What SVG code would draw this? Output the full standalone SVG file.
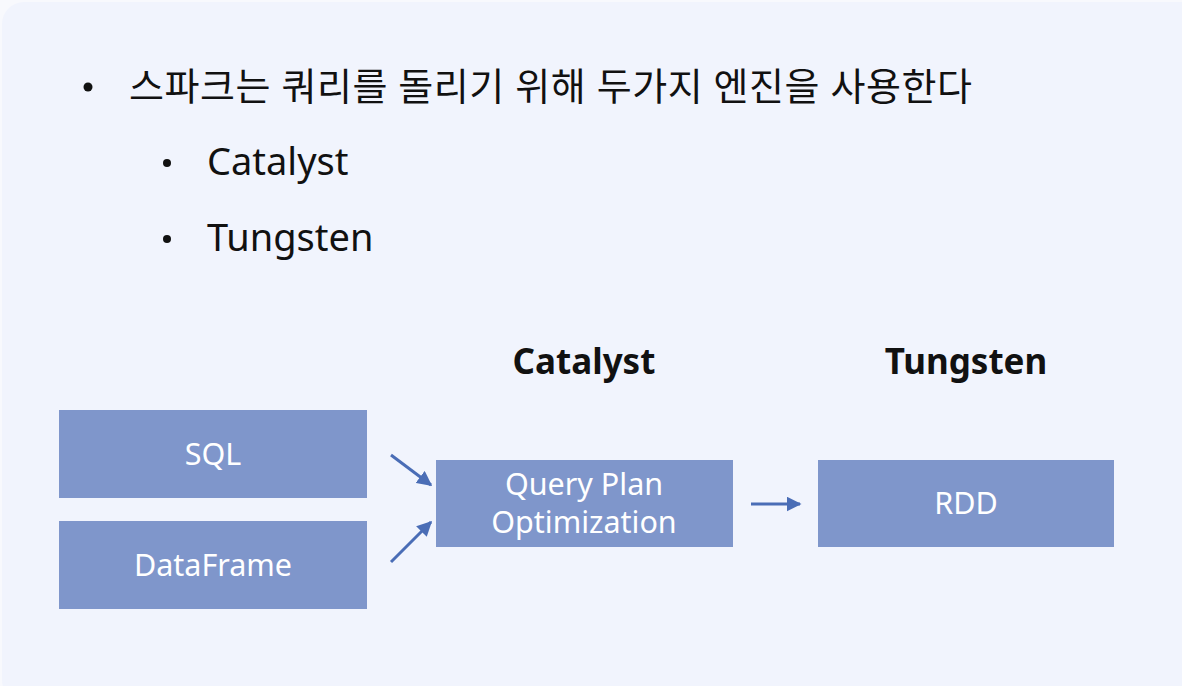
<svg xmlns="http://www.w3.org/2000/svg" width="1182" height="686" viewBox="0 0 1182 686">
<defs>
<style>
.t{font-family:"Noto Sans","Noto Sans CJK KR",sans-serif;fill:#111;}
.box{fill:#7F96CB;}
.bt{font-family:"Noto Sans","Open Sans",sans-serif;fill:#fff;font-size:30.5px;text-anchor:middle;}
.h{font-family:"Noto Sans","Open Sans",sans-serif;font-weight:bold;font-size:35px;fill:#111;text-anchor:middle;}
.c{stroke:#4A6DB6;stroke-width:3;fill:none;marker-end:url(#ah);}
</style>
<marker id="ah" viewBox="0 0 10 10" refX="9" refY="5" markerWidth="5" markerHeight="5" orient="auto" markerUnits="strokeWidth">
<path d="M0,0 L10,5 L0,10 z" fill="#4A6DB6"/>
</marker>
</defs>
<rect width="1182" height="686" fill="#F8F9FD"/>
<rect x="2" y="2" width="1200" height="700" rx="22" fill="#F1F4FD"/>
<g id="bullets">
<circle cx="88" cy="87" r="4.5" fill="#111"/>
<text class="t" x="129" y="100" font-size="38" textLength="843" lengthAdjust="spacing">스파크는 쿼리를 돌리기 위해 두가지 엔진을 사용한다</text>
<circle cx="167" cy="163" r="4" fill="#111"/>
<text class="t" x="207" y="175" font-size="38">Catalyst</text>
<circle cx="167" cy="239" r="4" fill="#111"/>
<text class="t" x="207" y="251" font-size="38">Tungsten</text>
</g>
<g id="label-catalyst"><text class="h" x="584" y="374">Catalyst</text></g>
<g id="label-tungsten"><text class="h" x="966" y="374">Tungsten</text></g>
<g id="sql"><rect class="box" x="59" y="410" width="308" height="88"/><text class="bt" x="213" y="465">SQL</text></g>
<g id="dataframe"><rect class="box" x="59" y="521" width="308" height="88"/><text class="bt" x="213" y="576">DataFrame</text></g>
<g id="qpo"><rect class="box" x="436" y="460" width="297" height="87"/><text class="bt" x="584" y="495">Query Plan</text><text class="bt" x="584" y="533">Optimization</text></g>
<g id="rdd"><rect class="box" x="818" y="460" width="296" height="87"/><text class="bt" x="966" y="514">RDD</text></g>
<g id="connectors">
<line class="c" x1="391" y1="455" x2="431" y2="485"/>
<line class="c" x1="391" y1="562" x2="431" y2="522"/>
<line class="c" x1="751" y1="504" x2="800" y2="504"/>
</g>
</svg>
